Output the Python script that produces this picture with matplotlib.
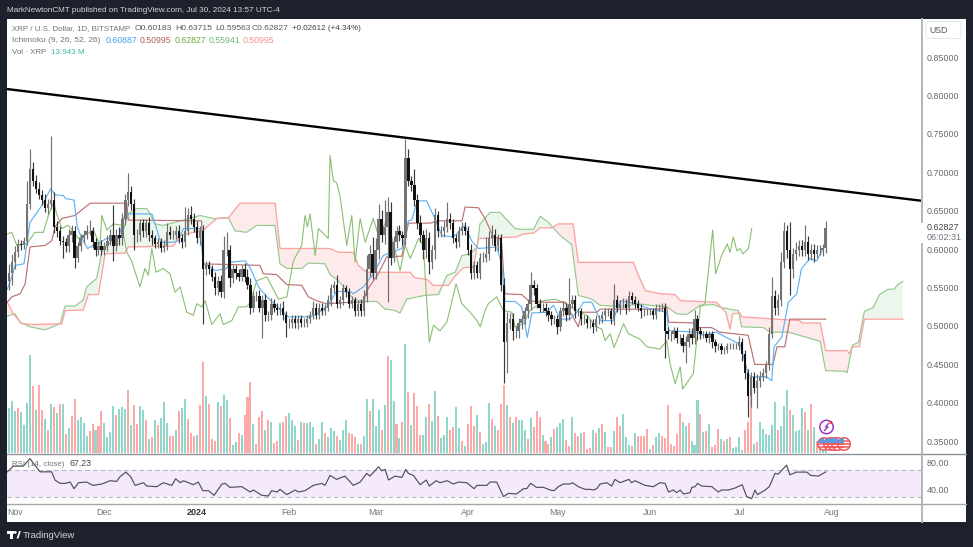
import numpy as np
import matplotlib
matplotlib.use("Agg")
import matplotlib.pyplot as plt
from matplotlib.patches import Circle, Rectangle, Polygon, FancyBboxPatch

plt.rcParams["font.family"] = ["Liberation Sans", "DejaVu Sans"]

# =====================================================
# DATA (days are counted from 2023-11-01)
# =====================================================

first_open = 0.560

closes = [
    .570, .585, .597, .608, .606, .612, .660, .705, .690, .680,
    .672, .665, .655, .660, .665, .630, .625, .612, .610, .605,
    .620, .625, .590, .605, .615, .620, .625, .625, .610, .600,
    .605, .600, .605, .612, .620, .605, .620, .615, .640, .665,
    .675, .660, .620, .620, .635, .625, .635, .620, .615, .608,
    .610, .603, .605, .623, .620, .620, .625, .615, .610, .625,
    .645, .640, .630, .615, .625, .575, .580, .575, .565, .550,
    .560, .545, .600, .600, .563, .575, .570, .565, .575, .565,
    .555, .525, .540, .540, .525, .535, .515, .515, .530, .525,
    .522, .525, .515, .505, .505, .510, .505, .510, .505, .505,
    .510, .515, .525, .515, .525, .520, .525, .535, .550, .555,
    .530, .535, .550, .545, .530, .535, .520, .530, .520, .540,
    .575, .595, .570, .600, .640, .620, .630, .650, .590, .610,
    .625, .620, .615, .720, .690, .685, .665, .635, .620, .600,
    .615, .585, .600, .645, .625, .625, .630, .640, .635, .615,
    .610, .625, .630, .625, .600, .570, .580, .570, .590, .590,
    .595, .615, .620, .605, .615, .555, .480, .505, .510, .495,
    .495, .505, .510, .520, .530, .555, .550, .530, .525, .525,
    .520, .515, .510, .510, .500, .520, .525, .515, .530, .535,
    .520, .520, .510, .510, .505, .505, .500, .510, .510, .515,
    .520, .520, .510, .535, .525, .530, .530, .525, .540, .535,
    .530, .525, .520, .520, .520, .520, .515, .525, .525, .525,
    .495, .490, .490, .495, .485, .485, .475, .480, .490, .485,
    .510, .495, .490, .490, .485, .490, .480, .475, .475, .470,
    .470, .475, .475, .475, .475, .480, .465, .440, .410, .435,
    .420, .430, .435, .440, .450, .490, .540, .525, .535, .585,
    .625, .600, .575, .595, .600, .605, .600, .610, .595, .600,
    .595, .600, .600, .602, .62827,
]

# wick lengths in thousandths of a dollar
upper_wicks = [
    12, 10, 8, 6, 5, 5, 30, 27, 10, 8,
    8, 6, 8, 6, 84, 10, 8, 6, 6, 6,
    8, 8, 6, 6, 6, 6, 8, 14, 5, 6,
    6, 8, 6, 8, 8, 38, 8, 10, 8, 8,
    25, 8, 6, 8, 6, 6, 6, 8, 6, 5,
    6, 6, 8, 12, 8, 6, 6, 8, 6, 31,
    10, 12, 8, 8, 6, 8, 6, 6, 5, 6,
    6, 8, 18, 23, 6, 5, 5, 5, 5, 8,
    10, 8, 6, 6, 8, 6, 8, 5, 8, 6,
    6, 6, 8, 6, 6, 5, 5, 5, 5, 6,
    6, 5, 8, 6, 6, 6, 5, 6, 6, 5,
    12, 5, 6, 5, 6, 5, 4, 5, 6, 8,
    18, 12, 22, 15, 20, 12, 35, 19, 12, 8,
    6, 8, 5, 25, 12, 6, 21, 8, 10, 6,
    12, 8, 6, 10, 6, 6, 8, 22, 8, 6,
    6, 6, 6, 6, 6, 8, 6, 6, 6, 8,
    22, 10, 12, 8, 6, 6, 8, 14, 8, 8,
    6, 6, 6, 6, 6, 16, 6, 6, 6, 6,
    6, 6, 5, 5, 6, 6, 8, 6, 34, 6,
    6, 5, 5, 5, 5, 5, 5, 5, 5, 5,
    5, 5, 5, 21, 6, 5, 8, 6, 6, 5,
    5, 5, 5, 5, 4, 4, 5, 5, 5, 6,
    6, 5, 5, 5, 5, 5, 5, 8, 8, 8,
    12, 5, 5, 5, 5, 5, 5, 4, 4, 4,
    4, 4, 4, 4, 4, 8, 5, 5, 5, 6,
    6, 8, 8, 6, 6, 10, 25, 8, 8, 12,
    12, 8, 36, 8, 10, 8, 8, 22, 8, 8,
    8, 6, 6, 6, 9,
]

lower_wicks = [
    12, 15, 10, 6, 6, 5, 6, 6, 6, 6,
    6, 6, 6, 8, 6, 8, 8, 6, 20, 8,
    8, 10, 14, 6, 6, 6, 6, 6, 8, 8,
    6, 6, 6, 6, 6, 19, 6, 8, 8, 8,
    8, 8, 20, 10, 8, 8, 8, 8, 8, 6,
    6, 6, 5, 5, 6, 6, 6, 6, 8, 6,
    6, 6, 6, 6, 8, 71, 8, 6, 5, 8,
    8, 6, 8, 8, 11, 6, 8, 5, 5, 6,
    6, 8, 6, 6, 6, 39, 8, 8, 6, 6,
    6, 6, 6, 18, 6, 6, 6, 8, 5, 5,
    5, 5, 5, 5, 5, 5, 5, 5, 8, 6,
    6, 5, 6, 6, 6, 6, 6, 6, 6, 6,
    8, 10, 8, 8, 12, 10, 12, 98, 10, 6,
    8, 8, 8, 8, 6, 8, 8, 8, 10, 12,
    10, 16, 10, 12, 8, 8, 8, 6, 8, 6,
    8, 6, 5, 6, 6, 8, 8, 6, 8, 6,
    6, 8, 8, 6, 6, 8, 53, 40, 8, 12,
    10, 10, 8, 6, 8, 8, 8, 6, 6, 6,
    6, 8, 8, 6, 10, 6, 6, 8, 6, 6,
    8, 6, 8, 6, 6, 6, 8, 6, 6, 5,
    6, 6, 6, 8, 6, 8, 6, 8, 5, 5,
    5, 5, 8, 6, 4, 5, 5, 5, 5, 5,
    36, 6, 8, 6, 6, 8, 8, 22, 6, 8,
    8, 12, 6, 5, 5, 6, 8, 8, 5, 5,
    5, 4, 4, 4, 4, 5, 10, 8, 28, 14,
    6, 26, 8, 6, 6, 6, 5, 10, 10, 8,
    8, 10, 34, 12, 8, 8, 8, 8, 8, 8,
    10, 6, 6, 8, 6,
]

volumes = [
    135, 155, 125, 135, 122, 85, 150, 295, 202, 128,
    205, 130, 103, 68, 148, 138, 120, 148, 146, 58,
    75, 112, 163, 100, 108, 90, 52, 65, 87, 68,
    80, 126, 90, 47, 62, 140, 115, 133, 138, 132,
    188, 85, 145, 88, 142, 130, 100, 43, 47, 100,
    85, 105, 153, 90, 50, 52, 70, 126, 136, 163,
    103, 61, 52, 53, 143, 274, 172, 147, 41, 37,
    153, 142, 174, 160, 105, 25, 34, 60, 55, 115,
    167, 212, 87, 28, 108, 126, 70, 100, 92, 30,
    35, 90, 92, 112, 120, 100, 82, 38, 94, 90,
    90, 94, 78, 26, 43, 93, 60, 48, 76, 65,
    51, 40, 68, 100, 59, 57, 49, 28, 28, 51,
    163, 127, 163, 82, 130, 70, 144, 290, 280, 157,
    86, 45, 93, 327, 184, 84, 180, 140, 55, 55,
    107, 147, 95, 186, 111, 45, 55, 108, 70, 78,
    138, 75, 35, 22, 88, 140, 80, 115, 64, 26,
    32, 150, 103, 80, 68, 148, 205, 145, 108, 90,
    109, 99, 100, 70, 43, 105, 77, 126, 108, 55,
    35, 27, 49, 72, 78, 90, 102, 39, 22, 108,
    61, 52, 60, 63, 13, 16, 68, 59, 74, 88,
    64, 18, 18, 65, 108, 80, 118, 49, 24, 22,
    59, 52, 52, 50, 72, 12, 24, 48, 59, 52,
    45, 145, 28, 20, 57, 120, 92, 82, 90, 37,
    25, 159, 118, 62, 66, 88, 17, 24, 72, 41,
    35, 42, 48, 14, 17, 47, 10, 68, 92, 170,
    28, 34, 94, 73, 58, 55, 85, 153, 68, 82,
    141, 188, 130, 113, 65, 68, 134, 123, 70, 147,
    78, 35, 15, 12, 14,
]

# t = teal bar, r = red bar
volume_dirs = (
    "tttrttttrt" "rrtrtrtrtr" "trrttttrrt" "rrttttrttt" "rtrrttrtrt"
    "rtttrrtrtt" "rrrtrrtrrr" "trttrttrtr" "rrtrrrtrtr" "rtrrtttrtr"
    "tttrttrttt" "rtttrrrtrt" "trtttrtrtt" "rtrtrtrrrt" "trttrtttrr"
    "ttrtrrrtrt" "ttrtrrrtrt" "rtttrtrrrt" "rrtrtttrrt" "rrtrrrtrtr"
    "trrtrrtttr" "trrrrtrttr" "rrrrrrttrt" "ttrtrtrrrt" "rtrttttrrr"
    "trttttttrt" "ttrttttrtr" "trttt"
)

tenkan_days = [
    -2.6, -1.1, 0, 3, 5, 9, 12, 13.4, 16.2, 17, 19.8, 20.9, 21.8, 24.3, 27.4, 30.8,
    34.7, 36.6, 38, 45.9, 47, 48.9, 52.6, 54.8, 56.5, 62, 63.2, 65.4, 67.1, 71, 72.1,
    77.2, 78.9, 81.7, 84.5, 90, 91.7, 98.4, 100.7, 105.1, 105.7, 107.9, 112.4, 113.5,
    116.9, 120.2, 123.6, 129.8, 132, 133.1, 135, 138.1, 140.9, 143.2, 147.1, 151,
    153.2, 155.5, 161.6, 163.3, 164.4, 167.8, 170, 171.9, 173.4, 178.4, 180.7, 182.9,
    186.2, 189, 190.7, 193.5, 196.5, 200.7, 203, 208.6, 213.1, 218.7, 219.3, 228.6,
    230.9, 235.3, 243.3, 246.1, 247.2, 252.2, 253.9, 254.7, 257.3, 259.5, 262.3,
    263.9, 266.8, 269, 271.8,
]
tenkan_vals = [
    .549, .565, .580, .582, .636, .658, .680, .672, .671, .667, .665, .630, .621, .602,
    .608, .615, .615, .643, .647, .647, .634, .610, .610, .612, .628, .628, .582, .578,
    .573, .576, .584, .586, .577, .552, .539, .519, .513, .513, .515, .528, .532, .546,
    .546, .543, .552, .569, .593, .602, .638, .639, .664, .664, .641, .619, .617, .632,
    .612, .602, .604, .582, .533, .533, .526, .486, .518, .519, .528, .510, .510, .521,
    .532, .532, .508, .508, .534, .530, .523, .519, .495, .493, .489, .493, .477, .437,
    .435, .435, .430, .474, .487, .532, .543, .576, .589, .586, .606,
]

kijun_days = [
    -2.6, -1.1, 1.7, 3.4, 5, 10.1, 12.3, 13.4, 15.7, 20.1, 25.2, 37.5, 38, 62.6, 63.2,
    82.2, 83.3, 87.8, 91.2, 96.2, 98.4, 101.2, 104.6, 112.4, 116.9, 118, 121.9, 124.7,
    129.8, 132, 139.3, 142.1, 150, 151, 155.5, 157.7, 160.5, 162.7, 163.3, 164.4, 170,
    172.3, 177.3, 184.6, 189, 190.2, 195.2, 196.3, 216.4, 218.7, 219.3, 228, 228.6,
    233.7, 236.5, 246, 248.2, 254.3, 255.7, 258.3, 260, 272,
]
kijun_vals = [
    .532, .539, .543, .556, .604, .606, .612, .630, .641, .645, .661, .661, .639, .638,
    .582, .580, .569, .568, .555, .554, .539, .534, .530, .532, .532, .547, .569, .591,
    .592, .635, .635, .638, .638, .656, .655, .641, .617, .615, .608, .543, .542, .534,
    .532, .532, .500, .519, .519, .523, .523, .526, .506, .505, .499, .499, .493, .489,
    .451, .451, .474, .474, .510, .510,
]

span_a_days = [
    -2.6, 0, 1.7, 5, 10.1, 15.1, 16.8, 20.1, 22.9, 24, 27.4, 29.1, 31.9, 35.8, 38, 40.8,
    44.2, 45.3, 47, 49.8, 62.1, 66.6, 71.6, 73.8, 77.7, 81.1, 87.2, 88.9, 91.2, 96.2,
    98.4, 104, 105.7, 108.5, 110.2, 113.5, 116.9, 121.4, 124.2, 127, 129.2, 131.4,
    137.6, 142.1, 144.9, 147.7, 150, 152.7, 155, 156, 159.4, 162.7, 167.8, 169.5, 174,
    176.2, 179, 182.9, 186.8, 189, 193.5, 196.3, 204, 209.2, 213.1, 218.7, 222, 225.4,
    229.9, 234.4, 237.1, 242.7, 243.8, 251.1, 253.3, 259.5, 262.3, 270.2, 272, 278.6,
    279.2, 281, 283, 285, 287.9, 290.1, 292.9, 295, 296.2, 297.9,
]
span_a_vals = [
    .514, .517, .506, .500, .496, .504, .527, .527, .535, .552, .563, .597, .610, .619,
    .647, .654, .654, .647, .634, .632, .645, .641, .642, .625, .623, .632, .632, .582,
    .576, .576, .583, .582, .568, .560, .552, .536, .533, .533, .523, .522, .518, .536,
    .541, .542, .567, .571, .593, .595, .604, .634, .649, .649, .628, .627, .627, .644,
    .636, .619, .607, .541, .536, .528, .526, .530, .528, .526, .517, .516, .528, .529,
    .525, .521, .500, .499, .493, .493, .490, .481, .443, .442, .440, .476, .480, .520,
    .525, .542, .549, .549, .555, .559,
]

span_b_days = [
    -2.6, -.6, 2.2, 6.2, 15.7, 16.8, 22.9, 24.6, 28, 30.2, 36.9, 38, 53.1, 55.4, 63.2,
    67.7, 71.6, 75.5, 87.3, 88.9, 105.7, 108.5, 113.5, 115.2, 118, 132.6, 134.2, 138.1,
    140.4, 145.4, 147.7, 150.4, 153.8, 155.5, 168.3, 170.6, 174, 176.2, 180.1, 182.3,
    187.3, 189, 207.5, 209.2, 211.5, 216.5, 221.5, 223.3, 235.4, 237, 238.5, 239.9,
    240.8, 243.3, 243.8, 263.4, 264, 270.2, 272, 279.2, 279.9, 281, 283.3, 285, 297.9,
]
span_b_vals = [
    .532, .517, .504, .503, .504, .521, .522, .542, .542, .595, .596, .604, .605, .619,
    .626, .641, .642, .661, .661, .602, .602, .597, .597, .580, .571, .571, .564, .562,
    .554, .554, .566, .577, .578, .615, .617, .621, .622, .629, .629, .634, .634, .584,
    .584, .567, .547, .543, .542, .534, .532, .525, .519, .497, .517, .518, .513, .508,
    .505, .505, .469, .469, .465, .474, .474, .510, .510,
]

chikou_days = [
    -2.6, -1.1, .6, 3.9, 6.7, 9.5, 11.2, 12.9, 14, 15.7, 17.9, 21.3, 24, 26.3, 28.5,
    29.1, 30.8, 33, 35.8, 37.5, 39.1, 41.9, 43.6, 44.7, 45.9, 47.3, 49.8, 52, 53.7,
    55.4, 57.6, 59.8, 61, 62.6, 63.8, 66, 68.8, 69.9, 72.7, 75, 77.7, 78.9, 81.1, 84.5,
    88.4, 91.2, 93.4, 96.2, 97.3, 98.1, 99, 100.7, 101.8, 105.1, 105.7, 106.8, 107.9,
    109.1, 111.3, 113, 114.1, 115.8, 117.5, 120.2, 121.9, 124.7, 127, 129.2, 130.9,
    132.6, 135.4, 137, 139, 140.4, 142.6, 144.9, 148, 149.9, 152.7, 155, 156.1, 157.7,
    158.8, 161.6, 163.9, 166.7, 167.8, 170.6, 172.8, 177.3, 181.2, 185.1, 188.5, 191.8,
    195.2, 196.9, 198, 199.7, 201, 204.2, 205.8, 209.7, 212, 216.4, 218.7, 219.8, 221.5,
    223.2, 224, 227.6, 229.9, 231.5, 234.1, 235.1, 237.1, 239, 239.9, 241, 242.2, 243.3,
    244.2, 246.1, 247.2,
]
chikou_vals = [
    .621, .623, .606, .608, .623, .623, .645, .662, .647, .628, .632, .615, .621, .626,
    .606, .645, .626, .634, .632, .597, .586, .552, .576, .567, .602, .571, .576, .569,
    .545, .552, .519, .515, .530, .526, .534, .503, .517, .503, .508, .526, .526, .532,
    .560, .565, .536, .539, .586, .606, .645, .630, .647, .593, .628, .615, .723, .690,
    .688, .669, .606, .645, .584, .641, .610, .641, .619, .638, .608, .573, .606, .589,
    .615, .606, .480, .502, .495, .506, .556, .530, .519, .508, .500, .521, .530, .539,
    .521, .519, .500, .504, .521, .534, .536, .530, .521, .515, .500, .497, .482, .491,
    .473, .504, .491, .484, .474, .471, .482, .452, .426, .448, .419, .439, .526, .530,
    .626, .569, .593, .608, .597, .617, .599, .602, .595, .602, .628,
]

rsi_days = [
    -2.6, -.6, 2.8, 5, 6.2, 8.4, 12.3, 13.4, 15.1, 16.8, 18.5, 19.8, 21.3, 24, 26.1,
    29.1, 31.9, 34.1, 35.2, 37.2, 38.8, 40.3, 43.1, 44.2, 47.5, 49.8, 52.6, 53.9, 55.4,
    56.5, 59.8, 61.5, 63, 64.9, 66.8, 69.4, 70.5, 72.1, 76.1, 78.9, 80, 82.8, 85, 86.1,
    88, 88.9, 91.2, 94, 95.1, 97.3, 100.1, 102.9, 104, 105.7, 107.9, 110.7, 113.5,
    115.8, 118, 119.1, 122, 123, 124.2, 125.3, 127.5, 129.8, 131.1, 132, 133.7, 135.9,
    138, 139, 141.3, 142.6, 145, 147.1, 148.8, 151.6, 154, 155, 158.3, 159.4, 161.6,
    163.9, 165.6, 168.3, 170.6, 171.7, 173, 175, 177.3, 179.6, 180.9, 182.3, 184, 186.2,
    187.1, 189, 191.3, 193, 194, 195.2, 196.3, 198.6, 200.2, 201.3, 203, 206, 206.9,
    208, 211.4, 214.2, 216.4, 218.1, 219.3, 220.9, 222, 223.2, 224.3, 226.5, 227.1,
    228.2, 229, 230.4, 233.8, 236, 237.1, 239.4, 241.6, 244, 245.5, 247.2, 248.3, 249.1,
    251.7, 253.1, 255, 256.1, 258.9, 260, 262.3, 265.7, 267, 269.6, 272,
]
rsi_vals = [
    67.4, 76, 76, 87.5, 80, 67.4, 67.4, 55, 50, 50, 52, 42, 51, 52, 47, 49, 54, 53, 60,
    67, 60, 47, 51, 46, 45, 51, 47, 57, 51, 54, 48, 52, 39, 39, 32, 49, 50, 44, 45, 37,
    40, 32, 31, 39, 37, 41, 33, 40, 37, 39, 47, 50, 47, 62, 56, 61, 47, 52, 65, 61, 75,
    69, 71, 55, 61, 59, 71, 65, 62, 48, 55, 46, 54, 51, 54, 49, 52, 51, 42, 47, 47, 52,
    52, 30, 35, 34, 42, 42, 50, 44, 44, 40, 39, 45, 49, 49, 51, 45, 41, 41, 40, 42, 49,
    51, 46, 56, 51, 56, 51, 54, 47, 45, 51, 50, 37, 40, 36, 40, 34, 36, 44, 45, 50, 46,
    45, 37, 40, 40, 43, 48, 30, 27, 40, 33, 40, 45, 65, 64, 77.5, 63, 67, 67, 62, 61, 67.23,
]

trend_days = [-2.7, 304]
trend_vals = [.8096, .6642]

month_days = [0, 30, 61, 92, 121, 152, 182, 213, 243, 274]
month_labels = ["Nov", "Dec", "2024", "Feb", "Mar", "Apr", "May", "Jun", "Jul", "Aug"]
price_ticks = [.85, .80, .75, .70, .65, .60, .55, .50, .45, .40, .35]
rsi_ticks = [80, 40]

# =====================================================
# FIGURE
# =====================================================

W, H = 973, 547
DARK = "#1d212c"
fig = plt.figure(figsize=(W / 100, H / 100), dpi=100, facecolor=DARK)


def panel(left, top, right, bottom):
    return fig.add_axes([left / W, (H - bottom) / H, (right - left) / W, (bottom - top) / H])


# pixel overlay for the frame and the interface text
bg = panel(0, 0, W, H)
bg.set_xlim(0, W)
bg.set_ylim(H, 0)
bg.axis("off")
bg.set_zorder(0)
bg.add_patch(Rectangle((7, 19), 959, 503, fc="white", ec="none"))

XMIN, XMAX = -2.7, 304
days = np.arange(-2, -2 + len(closes))

vol_ax = panel(7, 19, 921, 453)
vol_ax.set_zorder(1)
ax = panel(7, 19, 921, 453)
ax.set_zorder(2)
ax.patch.set_visible(False)
rsi_ax = panel(7, 454, 921, 503)
rsi_ax.set_zorder(2)
rsi_ax.patch.set_visible(False)

for a in (vol_ax, ax, rsi_ax):
    a.set_xlim(XMIN, XMAX)
    a.set_xticks([])
    a.set_yticks([])
    for s in a.spines.values():
        s.set_visible(False)

ax.set_ylim(.3357, .9008)
vol_ax.set_ylim(0, 1302)
vol_ax.patch.set_visible(False)
rsi_ax.set_ylim(20.4, 94.3)

# volume
vol_colors = ["#8fd6cb" if c == "t" else "#fbaaa8" for c in volume_dirs]
vol_ax.bar(days, volumes, width=.68, color=vol_colors, linewidth=0)

# cloud
grid = np.linspace(-2.6, 297.9, 3000)
a_line = np.interp(grid, span_a_days, span_a_vals)
b_line = np.interp(grid, span_b_days, span_b_vals)
ax.fill_between(grid, a_line, b_line, where=a_line >= b_line, color="#edf6ed", lw=0, zorder=1)
ax.fill_between(grid, a_line, b_line, where=a_line < b_line, color="#fdeaea", lw=0, zorder=1)
ax.plot(span_a_days, span_a_vals, color="#93c98f", lw=.85, zorder=2)
ax.plot(span_b_days, span_b_vals, color="#fba3a1", lw=.95, zorder=2)

# ichimoku lines
ax.plot(chikou_days, chikou_vals, color="#8abf72", lw=.8, zorder=3)
ax.plot(kijun_days, kijun_vals, color="#ba7272", lw=.85, zorder=3)
ax.plot(tenkan_days, tenkan_vals, color="#5fb3f3", lw=.85, zorder=3)

# candles
closes_arr = np.array(closes)
opens = np.r_[first_open, closes_arr[:-1]]
tops = np.maximum(opens, closes_arr)
bots = np.minimum(opens, closes_arr)
highs = tops + np.array(upper_wicks) / 1000
lows = bots - np.array(lower_wicks) / 1000
up = closes_arr >= opens
candle_colors = np.where(up, "#747474", "#111111")
ax.vlines(days, lows, highs, colors=np.where(up, "#707070", "#3a3a3a"), lw=.85, zorder=4)
ax.bar(days, tops - bots, bottom=bots, width=.8, color=candle_colors, linewidth=0, zorder=5)

# trend line
ax.plot(trend_days, trend_vals, color="black", lw=1.7, zorder=6, solid_capstyle="butt")

# rsi
rsi_ax.axhspan(30, 70, color="#f5eafd", lw=0)
rsi_ax.axhline(70, color="#b9b7bd", lw=.8, dashes=(4, 3))
rsi_ax.axhline(30, color="#b9b7bd", lw=.8, dashes=(4, 3))
rsi_ax.plot(rsi_days, rsi_vals, color="#505056", lw=.85)

# =====================================================
# FRAME AND TEXT
# =====================================================

over = panel(0, 0, W, H)
over.set_xlim(0, W)
over.set_ylim(H, 0)
over.axis("off")
over.set_zorder(5)
over.patch.set_visible(False)

SEP = "#b4b6bd"
over.plot([7, 966], [453.5, 453.5], color="#8d9097", lw=1)
over.plot([7, 966], [503.5, 503.5], color="#a4a6ad", lw=1)
over.plot([921.5, 921.5], [19, 222], color=SEP, lw=1.4)
over.plot([921.5, 921.5], [244, 522], color=SEP, lw=1.4)

FS = 6.3
GREY = "#70737c"


def label(x, y, s, color=GREY, size=FS, ha="left", **kw):
    over.text(x, y, s, color=color, fontsize=size, ha=ha, va="center", **kw)


label(7, 10, "MarkNewtonCMT published on TradingView.com, Jul 30, 2024 13:57 UTC-4", "#d3d5db", 5.85)

label(12, 29, "XRP / U.S. Dollar, 1D, BITSTAMP", GREY, 5.7)
for x, s in zip([135, 175, 215, 252], ["O0.60183", "H0.63715", "L0.59563", "C0.62827"]):
    label(x, 29, s, "#55575e", 6.1)
label(292, 29, "+0.02612 (+4.34%)", "#3f4046", 5.8)

label(12, 40.5, "Ichimoku (9, 26, 52, 26)", GREY, 6)
ichi_x = [106, 140, 174.5, 208.5, 242.5]
ichi_vals = ["0.60887", "0.50995", "0.62827", "0.55941", "0.50995"]
ichi_cols = ["#3ea3f2", "#b35f5f", "#64ad3f", "#6fb86f", "#f98e8e"]
for x, s, c in zip(ichi_x, ichi_vals, ichi_cols):
    label(x, 40.5, s, c)

label(12, 52, "Vol · XRP", GREY, 5.7)
label(51, 52, "13.943 M", "#3fb5a5", 5.8)

label(12.5, 464, "RSI (14, close)", GREY, 5.7)
label(70, 464, "67.23", "#45474d")

# time axis
for d, s in zip(month_days, month_labels):
    x = 7 + (d - XMIN) / (XMAX - XMIN) * 914
    if s == "2024":
        label(x, 512.7, s, "#35363b", FS + .2, ha="center", fontweight="bold")
    else:
        label(x, 512.7, s, "#73757d", ha="center")

# price axis
for p in price_ticks:
    y = 453 - (p - .3357) / (.9008 - .3357) * 434
    label(927, y, f"{p:.5f}", "#65676f", 6.4)
for r in rsi_ticks:
    y = 503 - (r - 20.4) / (94.3 - 20.4) * 49
    label(927, y, f"{r:.2f}", "#65676f", 6.4)
label(927, 228, "0.62827", "#3f4046", 6.4)
label(927, 238, "06:02:31", "#70737c", 6.4)
over.add_patch(FancyBboxPatch((926, 21.5), 35, 17, boxstyle="round,pad=0,rounding_size=2", fc="white", ec="#e3e5ea", lw=.7))
label(929, 30.5, "USD", "#55575e", 6.3)

# event icons
flag_x = [824, 830, 834, 838, 844]
for fx in flag_x:
    c = Circle((fx, 444), 6.2, fc="white", ec="#f2565a", lw=1.1, zorder=10)
    over.add_patch(c)
    for sy in (-3, 0, 3):
        st = over.plot([fx - 6, fx + 6], [444 + sy, 444 + sy], color="#f2565a", lw=1.1, zorder=11)[0]
        st.set_clip_path(c)
    bl = Rectangle((fx - 6, 438), 6, 5, fc="#5a9be6", ec="none", zorder=12)
    over.add_patch(bl)
    bl.set_clip_path(c)
over.add_patch(Circle((826.5, 427), 6.7, fc="white", ec="#9c36c8", lw=1.1, zorder=10))
over.plot([828.5, 825.5, 828, 824.5], [423.5, 427, 427, 430.5], color="#9c36c8", lw=1, zorder=11)
over.add_patch(Circle((831, 422.5), 1.5, fc="#f23645", ec="none", zorder=12))

# footer logo
over.add_patch(Rectangle((7, 531), 6.5, 2.6, fc="white", ec="none"))
over.add_patch(Rectangle((9.5, 531), 3.2, 7.5, fc="white", ec="none"))
over.add_patch(Circle((15.3, 532.4), 1.4, fc="white", ec="none"))
over.add_patch(Polygon([[16.5, 538.5], [19.2, 531], [20.8, 531], [18.5, 538.5]], fc="white", ec="none"))
label(23, 535, "TradingView", "#d3d5db", 6.8)

fig.savefig("out.png", dpi=100, facecolor=DARK)
